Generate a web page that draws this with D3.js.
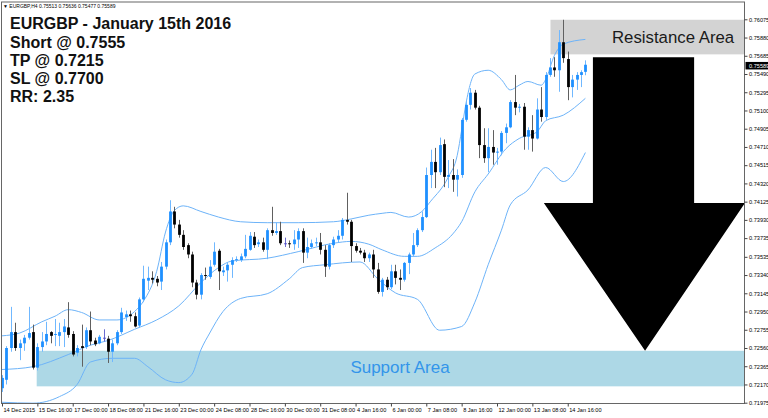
<!DOCTYPE html>
<html><head><meta charset="utf-8">
<script src="https://cdn.jsdelivr.net/npm/d3@7/dist/d3.min.js"></script>
<style>html,body{margin:0;padding:0;background:#fff;overflow:hidden}text{font-family:"Liberation Sans",Arial,sans-serif}</style>
</head><body>
<svg id="c" width="768" height="418"></svg>
<script>
// ---- data (EURGBP H4 candles) ----
const openP=[0.7213,0.7222,0.7256,0.7273,0.7256,0.7261,0.7267,0.7273,0.7235,0.7257,0.7263,0.7273,0.7270,0.7269,0.7273,0.7278,0.7271,0.7251,0.7258,0.7257,0.7275,0.7264,0.7261,0.7267,0.7266,0.7252,0.7261,0.7273,0.7289,0.7292,0.7290,0.7280,0.7308,0.7328,0.7331,0.7330,0.7327,0.7343,0.7369,0.7402,0.7388,0.7377,0.7366,0.7356,0.7326,0.7313,0.7334,0.7332,0.7345,0.7360,0.7337,0.7339,0.7345,0.7350,0.7350,0.7354,0.7361,0.7375,0.7367,0.7369,0.7361,0.7382,0.7379,0.7381,0.7368,0.7368,0.7367,0.7372,0.7381,0.7358,0.7364,0.7368,0.7369,0.7361,0.7343,0.7366,0.7372,0.7376,0.7393,0.7391,0.7365,0.7360,0.7358,0.7352,0.7356,0.7340,0.7316,0.7329,0.7321,0.7338,0.7331,0.7329,0.7347,0.7356,0.7366,0.7382,0.7396,0.7441,0.7455,0.7444,0.7474,0.7439,0.7441,0.7436,0.7441,0.7500,0.7516,0.7529,0.7513,0.7473,0.7459,0.7471,0.7465,0.7466,0.7486,0.7492,0.7519,0.7513,0.7514,0.7482,0.7489,0.7480,0.7511,0.7503,0.7548,0.7556,0.7553,0.7583,0.7565,0.7535,0.7543,0.7548,0.75513];
const highP=[0.7227,0.7258,0.7300,0.7283,0.7265,0.7270,0.7300,0.7281,0.7261,0.7273,0.7284,0.7274,0.7287,0.7283,0.7287,0.7305,0.7274,0.7259,0.7281,0.7278,0.7295,0.7267,0.7270,0.7276,0.7269,0.7265,0.7275,0.7299,0.7296,0.7296,0.7294,0.7310,0.7344,0.7343,0.7338,0.7333,0.7348,0.7372,0.7414,0.7407,0.7393,0.7382,0.7368,0.7359,0.7329,0.7336,0.7342,0.7350,0.7369,0.7362,0.7343,0.7347,0.7353,0.7354,0.7357,0.7377,0.7380,0.7380,0.7372,0.7374,0.7384,0.7407,0.7390,0.7391,0.7374,0.7371,0.7382,0.7384,0.7384,0.7374,0.7372,0.7374,0.7379,0.7366,0.7368,0.7375,0.7382,0.7395,0.7422,0.7393,0.7368,0.7363,0.7361,0.7358,0.7361,0.7347,0.7331,0.7332,0.7345,0.7345,0.7340,0.7348,0.7358,0.7379,0.7384,0.7402,0.7449,0.7468,0.7470,0.7481,0.7479,0.7457,0.7458,0.7447,0.7502,0.7521,0.7534,0.7532,0.7515,0.7491,0.7491,0.7489,0.7470,0.7488,0.7496,0.7521,0.7548,0.7517,0.7518,0.7492,0.7505,0.7523,0.7535,0.7551,0.7566,0.7567,0.7596,0.7607,0.7573,0.7548,0.7551,0.7553,0.75636];
const lowP=[0.7209,0.7217,0.7252,0.7253,0.7243,0.7253,0.7265,0.7233,0.7232,0.7252,0.7259,0.7261,0.7258,0.7258,0.7257,0.7267,0.7247,0.7247,0.7236,0.7255,0.7259,0.7258,0.7260,0.7263,0.7240,0.7241,0.7259,0.7271,0.7285,0.7284,0.7278,0.7278,0.7305,0.7318,0.7325,0.7322,0.7318,0.7340,0.7366,0.7384,0.7374,0.7361,0.7352,0.7321,0.7308,0.7308,0.7329,0.7330,0.7343,0.7318,0.7333,0.7327,0.7331,0.7348,0.7348,0.7352,0.7360,0.7363,0.7364,0.7359,0.7351,0.7376,0.7377,0.7366,0.7364,0.7363,0.7361,0.7363,0.7347,0.7352,0.7362,0.7365,0.7356,0.7332,0.7340,0.7363,0.7369,0.7372,0.7388,0.7348,0.7358,0.7356,0.7348,0.7348,0.7331,0.7314,0.7311,0.7318,0.7319,0.7324,0.7318,0.7327,0.7335,0.7354,0.7364,0.7380,0.7395,0.7427,0.7427,0.7441,0.7428,0.7427,0.7423,0.7418,0.7438,0.7498,0.7511,0.7511,0.7459,0.7454,0.7444,0.7452,0.7452,0.7462,0.7475,0.7491,0.7505,0.7508,0.7468,0.7468,0.7466,0.7479,0.7498,0.7500,0.7546,0.7546,0.7530,0.7561,0.7521,0.7524,0.7532,0.7535,0.75477];
const closeP=[0.7224,0.7256,0.7273,0.7256,0.7261,0.7267,0.7272,0.7235,0.7257,0.7263,0.7271,0.7269,0.7271,0.7273,0.7279,0.7270,0.7249,0.7256,0.7256,0.7275,0.7263,0.7260,0.7268,0.7267,0.7252,0.7261,0.7273,0.7294,0.7292,0.7290,0.7279,0.7308,0.7330,0.7331,0.7329,0.7326,0.7343,0.7369,0.7402,0.7388,0.7377,0.7364,0.7356,0.7326,0.7313,0.7334,0.7333,0.7343,0.7359,0.7338,0.7339,0.7345,0.7350,0.7351,0.7354,0.7362,0.7376,0.7366,0.7369,0.7361,0.7382,0.7379,0.7381,0.7368,0.7368,0.7367,0.7372,0.7381,0.7358,0.7364,0.7368,0.7369,0.7361,0.7343,0.7366,0.7372,0.7376,0.7393,0.7391,0.7365,0.7360,0.7358,0.7352,0.7356,0.7340,0.7316,0.7329,0.7321,0.7338,0.7331,0.7329,0.7347,0.7356,0.7366,0.7382,0.7396,0.7441,0.7455,0.7444,0.7473,0.7439,0.7441,0.7436,0.7441,0.7500,0.7516,0.7529,0.7513,0.7473,0.7459,0.7471,0.7465,0.7466,0.7486,0.7492,0.7519,0.7513,0.7514,0.7482,0.7489,0.7480,0.7511,0.7503,0.7548,0.7556,0.7553,0.7583,0.7566,0.7535,0.7543,0.7548,0.7551,0.75589];

// Bollinger bands: [bar index, price]
const upperBand=[[0,0.7269],[4,0.7272],[9,0.7284],[12,0.7290],[15,0.7297],[18,0.7294],[22,0.7286],[26,0.7286],[30,0.7295],[32,0.7306],[35,0.7338],[37,0.7380],[39,0.7403],[41,0.7408],[45,0.7402],[49,0.7396],[54,0.7391],[60,0.7390],[67,0.7390],[75,0.7391],[79,0.7394],[83,0.7398],[86,0.7400],[88,0.7401],[92,0.7396],[95,0.7402],[97,0.7413],[101,0.7439],[103,0.7462],[104,0.7489],[105,0.7518],[107,0.7549],[110,0.7553],[113,0.7543],[115,0.7532],[117,0.7537],[119,0.7541],[122,0.7537],[123,0.7543],[125,0.7569],[127,0.7581],[132,0.7586]];
const middleBand=[[0,0.7233],[7,0.7236],[15,0.7249],[20,0.7259],[24,0.7264],[30,0.7276],[35,0.7286],[40,0.7301],[45,0.7326],[49,0.7342],[52,0.7349],[60,0.7352],[67,0.7359],[75,0.7368],[79,0.7370],[83,0.7367],[86,0.7361],[91,0.7354],[94,0.7354],[98,0.7363],[102,0.7378],[104,0.7391],[107,0.7423],[110,0.7442],[114,0.7469],[117,0.7480],[121,0.7487],[123,0.7499],[127,0.7505],[132,0.7523]];
const lowerBand=[[0,0.7198],[7,0.7197],[13,0.7204],[17,0.7217],[20,0.7241],[25,0.7245],[30,0.7245],[33,0.7236],[37,0.7222],[40,0.7219],[43,0.7228],[45,0.7254],[47,0.7272],[50,0.7295],[54,0.7309],[60,0.7314],[65,0.7330],[68,0.7342],[73,0.7345],[81,0.7348],[85,0.7330],[89,0.7315],[94,0.7308],[99,0.7275],[104,0.7279],[107,0.7305],[110,0.7345],[113,0.7382],[115,0.7409],[119,0.7425],[123,0.7449],[127,0.7434],[132,0.7465]];

const priceTicks=[0.76075,0.75880,0.75685,0.75490,0.75295,0.75100,0.74905,0.74710,0.74515,0.74320,0.74125,0.73930,0.73735,0.73535,0.73340,0.73145,0.72950,0.72755,0.72560,0.72365,0.72170,0.71975];
const timeTickBars=[0,8,16,24,32,40,48,56,64,72,80,88,96,104,112,120,128];
const timeLabels=["14 Dec 2015","15 Dec 16:00","17 Dec 00:00","18 Dec 08:00","21 Dec 16:00","23 Dec 00:00","24 Dec 08:00","28 Dec 16:00","30 Dec 00:00","31 Dec 08:00","4 Jan 16:00","6 Jan 00:00","7 Jan 08:00","8 Jan 16:00","12 Jan 00:00","13 Jan 08:00","14 Jan 16:00"];

const headerText="\u25BC EURGBP,H4  0.75513 0.75636 0.75477 0.75589";
const noteLines=["EURGBP - January 15th 2016","Short @ 0.7555","TP @ 0.7215","SL @ 0.7700","RR: 2.35"];
const resistanceZone={from:124.1,lo:0.7570,hi:0.7607,label:"Resistance Area"};
const supportZone={from:7.85,lo:0.7215,hi:0.7253,label:"Support Area"};
const arrowShape={shaft:[133.7,156.6],head:[122.6,168.1],tip:145.5,top:0.7567,base:0.7411,tipPrice:0.7253};

// ---- layout ----
const W=768,H=418, L=1.5, R=744.5, T=2, B=403.5;
const svg=d3.select("#c");
const x=d3.scaleLinear().domain([0,132]).range([2,585.4]);
const y=d3.scaleLinear().domain([0.71975,0.76075]).range([402.7,19.3]);

svg.append("defs").append("clipPath").attr("id","plot").append("rect")
  .attr("x",L).attr("y",T).attr("width",R-L).attr("height",B-T);
const g=svg.append("g").attr("clip-path","url(#plot)");

// zones
g.append("rect").attr("x",x(resistanceZone.from)).attr("y",y(resistanceZone.hi))
  .attr("width",R-x(resistanceZone.from)).attr("height",y(resistanceZone.lo)-y(resistanceZone.hi)).attr("fill","#d3d3d3");
g.append("rect").attr("x",x(supportZone.from)).attr("y",y(supportZone.hi))
  .attr("width",R-x(supportZone.from)).attr("height",y(supportZone.lo)-y(supportZone.hi)).attr("fill","#add8e6");

// bands
const line=d3.line().x(d=>x(d[0])).y(d=>y(d[1])).curve(d3.curveMonotoneX);
[upperBand,middleBand,lowerBand].forEach(b=>{
  g.append("path").attr("d",line(b)).attr("fill","none").attr("stroke","#6db3f8").attr("stroke-width",1);
});

// candles
const bars=d3.range(openP.length).map(i=>({i,o:openP[i],h:highP[i],l:lowP[i],c:closeP[i]}));
const bw=2.8;
const cg=g.append("g");
bars.forEach(d=>{
  const up=d.c>d.o, doji=Math.abs(d.c-d.o)<0.00002;
  const col=doji?"#5050c8":(up?"#1e90ff":"#000");
  const wick=doji?"#6a6ad0":(up?"#70b8ff":"#606060");
  const cx=Math.round(x(d.i))+0.5;
  cg.append("line").attr("x1",cx).attr("x2",cx).attr("y1",y(d.h)).attr("y2",y(d.l)).attr("stroke",wick).attr("stroke-width",1);
  const top=y(Math.max(d.o,d.c)), bot=y(Math.min(d.o,d.c));
  cg.append("rect").attr("x",cx-bw/2).attr("y",top).attr("width",bw).attr("height",Math.max(1,bot-top)).attr("fill",col);
});

// arrow
const ap=[[arrowShape.shaft[0],arrowShape.top],[arrowShape.shaft[1],arrowShape.top],[arrowShape.shaft[1],arrowShape.base],
  [arrowShape.head[1],arrowShape.base],[arrowShape.tip,arrowShape.tipPrice],[arrowShape.head[0],arrowShape.base],[arrowShape.shaft[0],arrowShape.base]];
g.append("path").attr("d",d3.line().x(d=>x(d[0])).y(d=>y(d[1]))(ap)+"Z").attr("fill","#000");

// zone labels
svg.append("text").attr("x",612).attr("y",42.5).attr("font-size",16.8).attr("fill","#1a1a1a").text(resistanceZone.label);
svg.append("text").attr("x",400).attr("y",373).attr("text-anchor","middle").attr("font-size",17).attr("fill","#3395ea").text(supportZone.label);

// frame
svg.append("rect").attr("x",L).attr("y",T).attr("width",R-L).attr("height",B-T).attr("fill","none").attr("stroke","#666").attr("stroke-width",1);

// right price axis
const ya=svg.append("g").attr("transform",`translate(${R},0)`)
  .call(d3.axisRight(y).tickValues(priceTicks).tickFormat(d=>d.toFixed(5)).tickSize(3).tickPadding(1.5));
ya.select(".domain").remove();
ya.selectAll("text").attr("font-size",5.6).attr("fill","#000").style("font-family","'Liberation Sans',Arial");
ya.selectAll("line").attr("stroke","#444");

// current price tag
const last=closeP[closeP.length-1];
svg.append("rect").attr("x",R+1).attr("y",y(last)-2.8).attr("width",W-R-1).attr("height",7.5).attr("fill","#000");
svg.append("text").attr("x",R+4.5).attr("y",y(last)+3.3).attr("font-size",5.6).attr("fill","#fff").text(last.toFixed(5));

// bottom time axis
const xa=svg.append("g").attr("transform",`translate(0,${B})`)
  .call(d3.axisBottom(x).tickValues(timeTickBars).tickFormat((d,i)=>timeLabels[i]).tickSize(3).tickPadding(2));
xa.select(".domain").remove();
xa.selectAll("text").attr("text-anchor","start").attr("x",1).attr("font-size",5.6).attr("fill","#000").style("font-family","'Liberation Sans',Arial");
xa.selectAll("line").attr("stroke","#444");

// header and notes
svg.append("text").attr("x",3).attr("y",8.2).attr("font-size",5).attr("fill","#000").text(headerText);
noteLines.forEach((t,i)=>{
  svg.append("text").attr("x",10).attr("y",29.4+i*18.1).attr("font-size",16).attr("font-weight","bold").attr("fill","#111").text(t);
});
</script>
</body></html>
